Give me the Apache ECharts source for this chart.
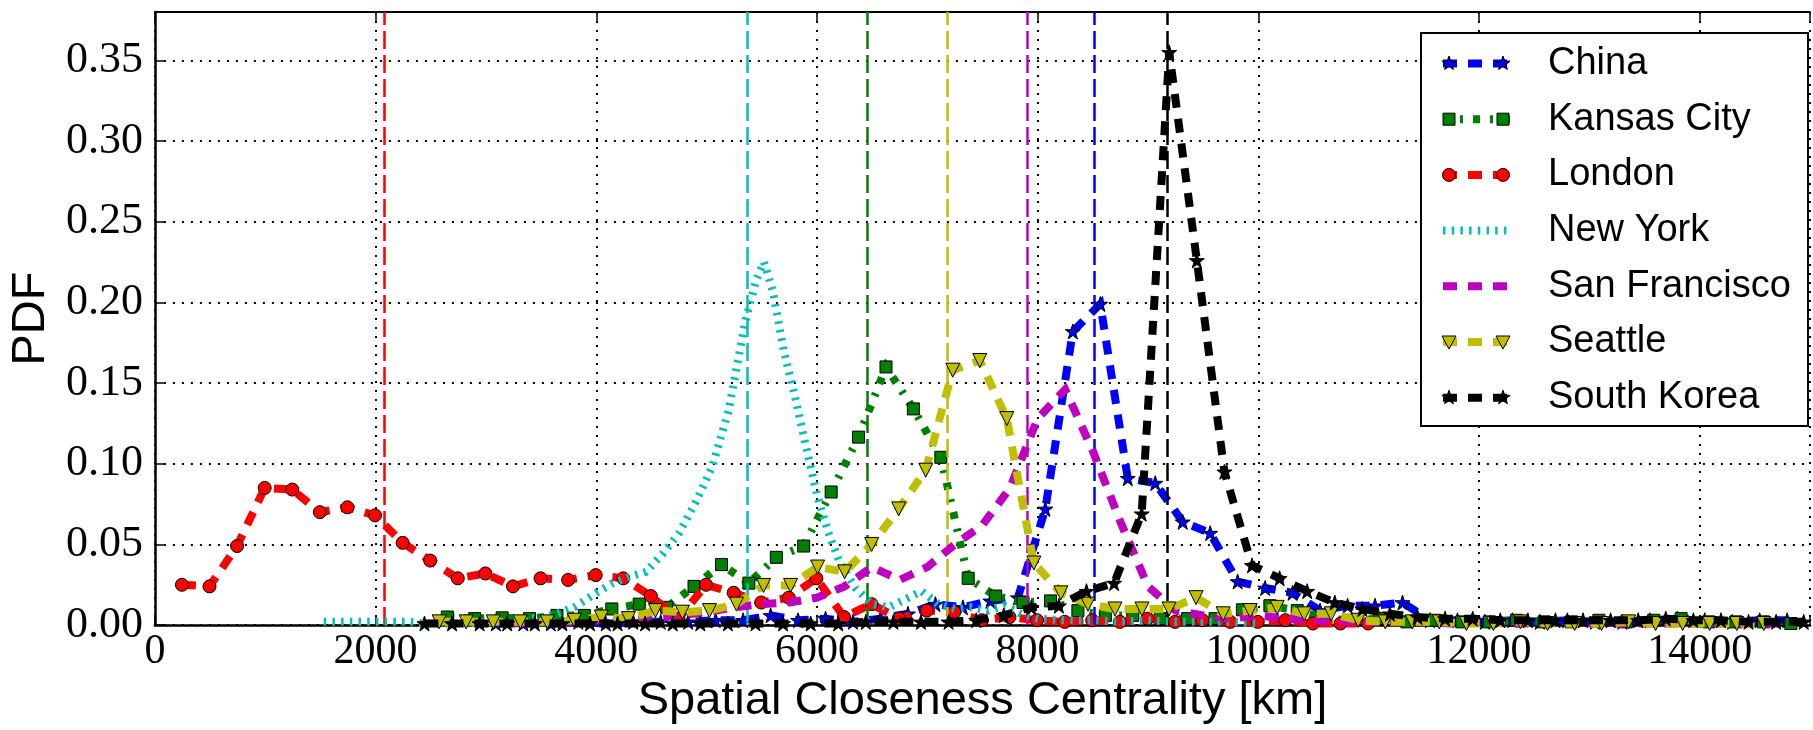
<!DOCTYPE html>
<html><head><meta charset="utf-8">
<script src="https://cdn.jsdelivr.net/npm/echarts@6/dist/echarts.min.js"></script>
<style>html,body{margin:0;padding:0;background:#fff}#c{width:1813px;height:730px}</style>
</head><body><div id="c"></div>
<script>
// ---- data ----
const chinaX = [3090,3339,3588,3837,4086,4335,4584,4833,5082,5331,5580,5829,6078,6327,6576,6825,7074,7323,7572,7821,8070,8319,8568,8817,9066,9315,9564,9813,10062,10311,10560,10809,11058,11307,11556,11805,12054,12303,12552,12801,13050,13299,13548,13797,14046,14295,14544,14793];
const chinaY = [0.001,0.001,0.001,0.002,0.001,0.002,0.002,0.002,0.003,0.003,0.006,0.003,0.004,0.002,0.004,0.007,0.013,0.011,0.015,0.017,0.072,0.182,0.199,0.091,0.088,0.064,0.057,0.027,0.023,0.020,0.009,0.012,0.012,0.014,0.003,0.003,0.002,0.003,0.002,0.003,0.002,0.002,0.003,0.004,0.003,0.002,0.003,0.003];

const kcX = [2650,2898,3147,3395,3644,3892,4141,4389,4638,4886,5135,5383,5632,5880,6129,6377,6626,6874,7123,7371,7620,7868,8117,8365,8614,8862,9111,9359,9608,9856,10105,10353,10602,10850,11099,11347,11596,11844,12093,12341,12590,12838,13087,13335,13584,13832,14081,14329,14578,14826];
const kcY = [0.005,0.004,0.0045,0.004,0.006,0.006,0.010,0.013,0.011,0.024,0.0375,0.026,0.042,0.049,0.0825,0.1165,0.160,0.134,0.104,0.029,0.018,0.014,0.015,0.009,0.006,0.006,0.004,0.004,0.004,0.0095,0.012,0.009,0.004,0.003,0.004,0.002,0.003,0.002,0.002,0.003,0.002,0.002,0.003,0.002,0.003,0.004,0.002,0.002,0.002,0.001];

const londonX = [245,495,745,995,1245,1495,1745,1995,2245,2495,2745,2995,3245,3495,3745,3995,4245,4495,4745,4995,5245,5495,5745,5995,6245,6495,6745,6995,7245,7495,7745,7995,8245,8495,8745,8995,9245,9495,9745,9995,10245,10495,10745,10995];
const londonY = [0.025,0.024,0.049,0.085,0.084,0.070,0.073,0.068,0.051,0.040,0.029,0.032,0.024,0.029,0.028,0.031,0.029,0.018,0.004,0.025,0.020,0.014,0.017,0.029,0.005,0.013,0.004,0.009,0.008,0.003,0.005,0.003,0.002,0.003,0.002,0.004,0.002,0.003,0.002,0.002,0.003,0.001,0.001,0.001];

const nyX = [1530,1700,1900,2100,2300,2450,2600,2800,3000,3200,3400,3600,3800,4000,4150,4300,4450,4600,4750,4900,5050,5200,5350,5450,5520,5600,5700,5800,5900,6000,6100,6200,6350,6500,6650,6800,6950,7100,7250,7400,7550,7700,7850,8000,8250,8500,8750,9000,9250,9500,9750,10000];
const nyY = [0.002,0.002,0.002,0.002,0.002,0.001,0.001,0.001,0.002,0.003,0.004,0.006,0.011,0.020,0.026,0.030,0.033,0.044,0.057,0.076,0.098,0.133,0.188,0.214,0.225,0.207,0.170,0.142,0.111,0.081,0.058,0.040,0.023,0.013,0.011,0.016,0.021,0.013,0.010,0.011,0.009,0.012,0.007,0.004,0.003,0.003,0.002,0.003,0.002,0.002,0.002,0.001];

const sfX = [3250,3500,3750,4000,4250,4500,4750,5000,5250,5500,5750,6000,6250,6500,6750,7000,7250,7500,7750,8000,8250,8500,8750,9000,9250,9500,9750,10000,10250,10500,10750,11000,11250,11500,11750,12000,12250,12500,12750,13000,13250,13500,13750,14000,14250,14500,14750];
const sfY = [0.001,0.002,0.002,0.003,0.003,0.004,0.006,0.008,0.011,0.013,0.014,0.017,0.024,0.036,0.028,0.036,0.050,0.062,0.085,0.128,0.146,0.108,0.064,0.024,0.009,0.006,0.004,0.006,0.004,0.003,0.002,0.002,0.002,0.002,0.001,0.002,0.001,0.001,0.002,0.001,0.001,0.001,0.001,0.001,0.001,0.001,0.001];

const seattleX = [2576,2821,3066,3311,3556,3801,4046,4291,4536,4781,5026,5271,5516,5761,6006,6251,6496,6741,6986,7231,7476,7721,7966,8211,8456,8701,8946,9191,9436,9681,9926,10171,10416,10661,10906,11151,11396,11641,11886,12131,12376,12621,12866,13111,13356,13601,13846,14091,14336,14581];
const seattleY = [0.002,0.002,0.002,0.002,0.002,0.003,0.005,0.004,0.009,0.008,0.009,0.013,0.0246,0.0246,0.036,0.033,0.050,0.072,0.096,0.158,0.164,0.128,0.0385,0.020,0.013,0.010,0.010,0.010,0.017,0.007,0.009,0.011,0.007,0.007,0.003,0.002,0.002,0.002,0.001,0.001,0.002,0.001,0.001,0.001,0.002,0.001,0.001,0.001,0.001,0.001];

const skX = [2443,2693,2943,3193,3443,3693,3943,4193,4443,4693,4943,5193,5443,5693,5943,6193,6443,6693,6943,7193,7443,7693,7943,8193,8443,8693,8943,9193,9443,9693,9943,10193,10443,10693,10943,11193,11443,11693,11943,12193,12443,12693,12943,13193,13443,13693,13943,14193,14443,14693,14943];
const skY = [0.001,0.001,0.001,0.001,0.001,0.001,0.001,0.001,0.001,0.001,0.001,0.001,0.001,0.001,0.001,0.001,0.002,0.002,0.002,0.002,0.003,0.006,0.011,0.012,0.021,0.026,0.069,0.355,0.226,0.095,0.037,0.029,0.021,0.014,0.010,0.007,0.005,0.004,0.004,0.003,0.003,0.003,0.003,0.003,0.003,0.004,0.003,0.003,0.002,0.002,0.002];

const seriesNames = ['China','Kansas City','London','New York','San Francisco','Seattle','South Korea'];
const meanValues = [8513, 6453, 2080, 5364, 7910, 7179, 9179];
const yTicks = [0,0.05,0.10,0.15,0.20,0.25,0.30,0.35];

// ---- styles ----
const COLORS = ['#0000ff','#008000','#ff0000','#00bfbf','#bf00bf','#bfbf00','#000000'];
const DASH = [[14,11],[7,10,3,10],[14,11],[2.5,6.2],[14,11],[14,11],[14,11]];
const STAR = 'path://M50,0 L61.2,34.5 L97.6,34.5 L68.2,55.9 L79.4,90.5 L50,69.1 L20.6,90.5 L31.8,55.9 L2.4,34.5 L38.8,34.5 Z';
const SYMBOLS = [STAR,'rect','circle','none','none','triangle',STAR];
const SYMSIZE = [15,12,13,0,0,14,15];
const SYMROT = [0,0,0,0,0,180,0];
const XS = [chinaX,kcX,londonX,nyX,sfX,seattleX,skX];
const YS = [chinaY,kcY,londonY,nyY,sfY,seattleY,skY];

function zip(xs, ys){ return xs.map((x,i)=>[x, ys[i]]); }

const series = seriesNames.map((name, i) => ({
  name, type:'line', data: zip(XS[i], YS[i]),
  symbol: SYMBOLS[i], symbolSize: SYMSIZE[i], symbolRotate: SYMROT[i],
  showSymbol: SYMBOLS[i] !== 'none',
  lineStyle: {color: COLORS[i], width: 8, type: DASH[i], cap: 'butt', join: 'miter'},
  itemStyle: {color: COLORS[i], borderColor:'#000', borderWidth:1},
  emphasis: {disabled:true}, silent:true, z: 2 + i,
  markLine: {silent:true, symbol:['none','none'], label:{show:false}, animation:false,
    lineStyle:{color: COLORS[i], width:2.5, type:[18,6]}, data:[{xAxis: meanValues[i]}]}
}));

// ---- legend drawn as graphics (matplotlib-like) ----
const LX0 = 1443, LX1 = 1510, MK0 = 1449, MK1 = 1503, LY0 = 63.5, LDY = 55.7;
function starPts(cx, cy, R, r){
  const p=[]; for(let k=0;k<10;k++){const a=-Math.PI/2+k*Math.PI/5; const rr=k%2?r:R; p.push([cx+rr*Math.cos(a), cy+rr*Math.sin(a)]);} return p;
}
function marker(i, cx, cy){
  const st = {fill: COLORS[i], stroke:'#000', lineWidth:1};
  if (i===0 || i===6) return {type:'polygon', shape:{points: starPts(cx,cy,7.5,3)}, style: st, z:100};
  if (i===1) return {type:'rect', shape:{x:cx-6,y:cy-6,width:12,height:12}, style: st, z:100};
  if (i===2) return {type:'circle', shape:{cx, cy, r:6.5}, style: st, z:100};
  if (i===5) return {type:'polygon', shape:{points:[[cx-7,cy-6],[cx+7,cy-6],[cx,cy+7]]}, style: st, z:100};
  return null;
}
const legendEls = [{type:'rect', shape:{x:1421,y:33,width:387,height:393}, style:{fill:'#fff', stroke:'#000', lineWidth:2}, z:98}];
seriesNames.forEach((name,i)=>{
  const cy = LY0 + LDY*i;
  legendEls.push({type:'line', shape:{x1:LX0,y1:cy,x2:LX1,y2:cy}, style:{stroke:COLORS[i], lineWidth:8, lineDash:DASH[i], lineCap:'butt'}, z:99});
  const m0 = marker(i, MK0, cy), m1 = marker(i, MK1, cy);
  if (m0) legendEls.push(m0); if (m1) legendEls.push(m1);
  legendEls.push({type:'text', x:1548, y:cy, style:{text:name, font:'38px "Liberation Sans"', fill:'#000', align:'left', verticalAlign:'middle'}, z:100});
});

const gridLine = {show:true, lineStyle:{color:'#000', width:2, type:[2,7]}};
const chart = echarts.init(document.getElementById('c'), null, {renderer:'canvas'});
chart.setOption({
  animation:false,
  backgroundColor:'#fff',
  grid:{left:152, top:12, width:1675, height:619},
  xAxis:[{
    type:'value', min:0, max:15000, interval:2000,
    name:'Spatial Closeness Centrality [km]', nameLocation:'middle', nameGap:46,
    nameTextStyle:{fontFamily:'Liberation Sans', fontSize:47, color:'#000'},
    axisLine:{show:true, onZero:false, lineStyle:{color:'#000', width:2.5}},
    axisTick:{show:true, inside:true, length:10, lineStyle:{color:'#000', width:1.5}},
    axisLabel:{fontFamily:'Liberation Serif', fontSize:42, color:'#000', margin:6,
      formatter: v => (v % 2000 === 0 ? String(v) : '')},
    splitLine: gridLine
  },{
    type:'value', position:'top', min:0, max:15000, interval:2000,
    axisLine:{show:true, onZero:false, lineStyle:{color:'#000', width:2}},
    axisTick:{show:true, inside:true, length:10, lineStyle:{color:'#000', width:1.5}},
    axisLabel:{show:false}, splitLine:{show:false}
  }],
  yAxis:{
    type:'value', min:0, max:0.38, interval:0.05,
    name:'PDF', nameLocation:'middle', nameGap:89,
    nameTextStyle:{fontFamily:'Liberation Sans', fontSize:47, color:'#000'},
    axisLine:{show:true, lineStyle:{color:'#000', width:2.5}},
    axisTick:{show:true, inside:true, length:10, lineStyle:{color:'#000', width:1.5}},
    axisLabel:{fontFamily:'Liberation Serif', fontSize:44, color:'#000', margin:12,
      formatter: v => { const t = yTicks.find(q => Math.abs(q - v) < 1e-9); return t === undefined ? '' : t.toFixed(2); }},
    splitLine: gridLine
  },
  series,
  graphic: legendEls
});
</script></body></html>
